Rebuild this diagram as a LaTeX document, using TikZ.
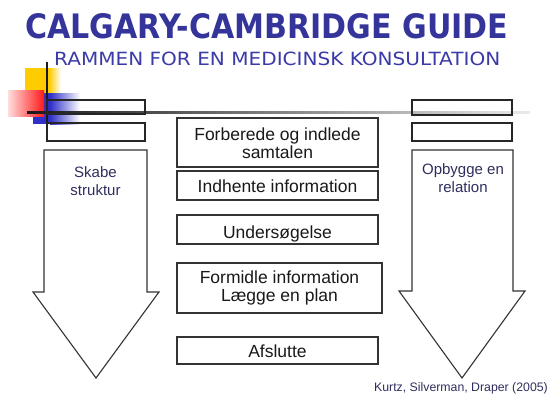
\documentclass[tikz,border=0pt]{standalone}
\usepackage{fontspec}
\setmainfont{Liberation Sans}
\newfontfamily\titlefont{DejaVu Sans}
\definecolor{titleblue}{HTML}{34349A}
\definecolor{subblue}{HTML}{3A3AA8}
\definecolor{navytext}{HTML}{2E2E5E}
\definecolor{decoyellow}{HTML}{FFCC00}
\definecolor{decored}{HTML}{FF1A1A}
\definecolor{decoblue}{HTML}{3030C8}
\definecolor{edge}{HTML}{333333}
\tikzset{
  stepbox/.style={draw=edge, line width=1.3pt, fill=white, inner sep=0pt,
    minimum width=201pt, align=center, text=black!90,
    font=\fontsize{17.5}{18.5}\selectfont},
  smallbox/.style={draw=black!85, line width=1.2pt},
  bigarrow/.style={draw=edge, line width=1.1pt, fill=white, line join=miter},
  arrowtext/.style={align=center, text=navytext, inner sep=0pt,
    font=\fontsize{15}{17.5}\selectfont},
}
\begin{document}
\begin{tikzpicture}[x=1pt,y=-1pt]
\useasboundingbox (0,0) rectangle (548,394);
% title
\node[anchor=north west, inner sep=0pt, text=titleblue] (title) at (25,13)
  {\resizebox{483pt}{25pt}{\titlefont\bfseries CALGARY-CAMBRIDGE GUIDE}};
\node[anchor=north west, inner sep=0pt, text=subblue] (subtitle) at (54,52)
  {\resizebox{446pt}{13.5pt}{\titlefont RAMMEN FOR EN MEDICINSK KONSULTATION}};
% decoration squares
\fill[decoyellow] (25,68) rectangle (49,95);
\shade[left color=decoyellow, right color=white] (49,68) rectangle (61,95);
\fill[decoblue] (33,93) rectangle (50,124);
\shade[left color=decoblue, right color=white] (50,93) rectangle (80,124);
\shade[left color=decored!15, right color=decored] (8,90) rectangle (44,116);
% lines
\shade[left color=black!90, right color=black!8] (27,111) rectangle (530,113.2);
\draw[black!90, line width=2.6pt] (47,62) -- (47,127);
% small empty boxes
\draw[smallbox] (47,100) rectangle (145,114);
\draw[smallbox] (47,123) rectangle (145,141);
\draw[smallbox] (412,100) rectangle (512,115);
\draw[smallbox] (412,123) rectangle (512,141);
% big arrows
\draw[bigarrow] (44,150) -- (147,150) -- (147,292) -- (159,292) -- (96,378)
  -- (33,292) -- (44,292) -- cycle;
\draw[bigarrow] (412,150) -- (513,150) -- (513,291) -- (525,291) -- (462,378)
  -- (399,291) -- (412,291) -- cycle;
\node[arrowtext] (struktur) at (95.5,181) {Skabe\\struktur};
\node[arrowtext] (relation) at (463,178) {Opbygge en\\relation};
% steps
\node[stepbox, minimum height=49pt] (s1) at (277.5,142.5)
  {\raisebox{-3pt}[\height][\depth]{\begin{tabular}{@{}c@{}}Forberede og indlede\\[-0.5pt]samtalen\end{tabular}}};
\node[stepbox, minimum height=29pt, text height=21pt, text depth=8pt] (s2) at (277.5,185.5) {Indhente information};
\node[stepbox, minimum height=29pt, text height=23pt, text depth=6pt] (s3) at (277.5,229.5) {Undersøgelse};
\node[stepbox, minimum height=50pt, minimum width=205pt] (s4) at (279.5,288)
  {Formidle information\\Lægge en plan};
\node[stepbox, minimum height=27pt, text height=20pt, text depth=7pt] (s5) at (277.5,350.5) {Afslutte};
% citation
\node[anchor=base east, inner sep=0pt, text=navytext, font=\fontsize{12.3}{14}\selectfont] (cite) at (548,391)
  {Kurtz, Silverman, Draper (2005)};
\end{tikzpicture}
\end{document}
